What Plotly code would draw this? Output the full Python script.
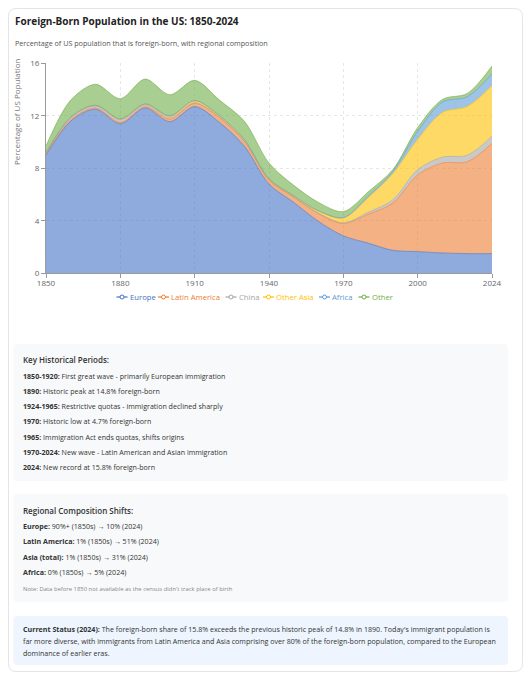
import plotly.graph_objects as go

# census years (category axis, 2024 added after 2020)
years = ['1850', '1860', '1870', '1880', '1890', '1900', '1910', '1920', '1930', '1940',
         '1950', '1960', '1970', '1980', '1990', '2000', '2010', '2020', '2024']
tick_years = ['1850', '1880', '1910', '1940', '1970', '2000', '2024']

# share of total US population (%) by region of birth
europe = [9.0, 11.6, 12.5, 11.4, 12.6, 11.55, 12.7, 11.5, 9.7, 6.8,
          5.4, 3.95, 2.85, 2.3, 1.75, 1.65, 1.55, 1.5, 1.5]
latin_america = [0.1, 0.1, 0.1, 0.1, 0.1, 0.2, 0.25, 0.35, 0.35, 0.3,
                 0.4, 0.6, 0.95, 2.2, 3.6, 5.85, 6.85, 7.0, 8.4]
china = [0.05, 0.15, 0.15, 0.2, 0.15, 0.15, 0.05, 0.05, 0.05, 0.03,
         0.03, 0.04, 0.05, 0.15, 0.25, 0.4, 0.45, 0.5, 0.55]
other_asia = [0.05, 0.05, 0.05, 0.05, 0.05, 0.1, 0.15, 0.1, 0.1, 0.07,
              0.07, 0.15, 0.35, 1.1, 2.0, 2.3, 3.4, 3.7, 3.85]
africa = [0, 0, 0, 0, 0, 0, 0, 0, 0, 0,
          0, 0.01, 0.05, 0.12, 0.15, 0.6, 0.8, 0.75, 0.9]
other = [0.5, 1.3, 1.6, 1.55, 1.9, 1.6, 1.55, 1.2, 1.4, 1.2,
         0.8, 0.65, 0.45, 0.33, 0.15, 0.3, 0.2, 0.25, 0.6]

series_names = ['Europe', 'Latin America', 'China', 'Other Asia', 'Africa', 'Other']
series_values = [europe, latin_america, china, other_asia, africa, other]
colors = ['#4472c4', '#ed7d31', '#a5a5a5', '#ffc000', '#5b9bd5', '#70ad47']

periods = [
    ('1850-1920:', 'First great wave - primarily European immigration'),
    ('1890:', 'Historic peak at 14.8% foreign-born'),
    ('1924-1965:', 'Restrictive quotas - immigration declined sharply'),
    ('1970:', 'Historic low at 4.7% foreign-born'),
    ('1965:', 'Immigration Act ends quotas, shifts origins'),
    ('1970-2024:', 'New wave - Latin American and Asian immigration'),
    ('2024:', 'New record at 15.8% foreign-born'),
]
shifts = [
    ('Europe:', '90%+ (1850s) → 10% (2024)'),
    ('Latin America:', '1% (1850s) → 51% (2024)'),
    ('Asia (total):', '1% (1850s) → 31% (2024)'),
    ('Africa:', '0% (1850s) → 5% (2024)'),
]
status_lines = [
    "<b>Current Status (2024):</b> The foreign-born share of 15.8% exceeds the previous historic peak of 14.8% in 1890. Today's immigrant population is",
    "far more diverse, with immigrants from Latin America and Asia comprising over 80% of the foreign-born population, compared to the European",
    "dominance of earlier eras.",
]

# the page body keeps its 8px margin, so the figure is 16px smaller than the window
# and all positions below are given in window pixels
OFF = 8
W, H = 531 - 2 * OFF, 680 - 2 * OFF
FONT = 'Segoe UI, Open Sans, sans-serif'


def px(x):
    return (x - OFF) / W


def py(y):
    return 1 - (y - OFF) / H


def hex_rgba(h, a):
    h = h.lstrip('#')
    return 'rgba(%d,%d,%d,%s)' % (int(h[0:2], 16), int(h[2:4], 16), int(h[4:6], 16), a)


def rounded_box(x0, y0, x1, y1, r, fill, line='rgba(0,0,0,0)'):
    pts = [('M', x0 + r, y0), ('L', x1 - r, y0), ('Q', x1, y0, x1, y0 + r),
           ('L', x1, y1 - r), ('Q', x1, y1, x1 - r, y1), ('L', x0 + r, y1),
           ('Q', x0, y1, x0, y1 - r), ('L', x0, y0 + r), ('Q', x0, y0, x0 + r, y0)]
    path = ''
    for p in pts:
        coords = p[1:]
        s = ' '.join('%.5f,%.5f' % (px(coords[i]), py(coords[i + 1])) for i in range(0, len(coords), 2))
        path += p[0] + ' ' + s + ' '
    return dict(type='path', path=path + 'Z', xref='paper', yref='paper',
                fillcolor=fill, line=dict(color=line, width=1), layer='below')


def text(x, y, s, size, color='#333', weight=None, anchor='left'):
    f = dict(family=FONT, size=size, color=color)
    if weight:
        f['weight'] = weight
    return dict(x=px(x), y=py(y), xref='paper', yref='paper', text=s, showarrow=False,
                xanchor=anchor, yanchor='middle', borderpad=0, font=f)


fig = go.Figure()

for name, vals, c in zip(series_names, series_values, colors):
    fig.add_trace(go.Scatter(
        x=years, y=vals, name=name, mode='lines', stackgroup='one',
        line=dict(color=hex_rgba(c, 0.75), width=0.8, shape='spline', smoothing=0.9),
        fillcolor=hex_rgba(c, 0.6), showlegend=False,
        hovertemplate='%{x}: %{y:.1f}%<extra>' + name + '</extra>'
    ))

shapes = [
    rounded_box(8.5, 8.5, 522.5, 671.5, 8, '#ffffff', '#e4e4e4'),
    rounded_box(13.5, 344, 508, 481, 4, '#f8f9fa'),
    rounded_box(13.5, 494, 508, 602, 4, '#f8f9fa'),
    rounded_box(13.5, 616, 508, 665, 4, '#eef5fe'),
]

annotations = [
    text(14, 21, '<b>Foreign-Born Population in the US: 1850-2024</b>', 10.0, '#222'),
    text(14, 43, 'Percentage of US population that is foreign-born, with regional composition', 7.2, '#555'),
    dict(x=px(17), y=py(112), xref='paper', yref='paper', text='Percentage of US Population',
         showarrow=False, textangle=-90, xanchor='center', yanchor='middle',
         font=dict(family=FONT, size=8, color='#777')),
]

# legend drawn by hand (line + hollow circle icons, coloured labels)
legend_x = [122, 163.5, 231, 268.5, 324.5, 364]
legend_y = 297
for name, c, lx in zip(series_names, colors, legend_x):
    shapes.append(dict(type='line', xref='paper', yref='paper', x0=px(lx - 5.5), x1=px(lx + 5.5),
                       y0=py(legend_y), y1=py(legend_y), line=dict(color=c, width=1.2)))
    shapes.append(dict(type='circle', xref='paper', yref='paper', x0=px(lx - 2), x1=px(lx + 2),
                       y0=py(legend_y - 2), y1=py(legend_y + 2), fillcolor='white',
                       line=dict(color=c, width=1)))
    annotations.append(text(lx + 6.5, legend_y, name, 7.7, c))

# key historical periods box
annotations.append(text(22, 359.5, 'Key Historical Periods:', 8.0, '#333', weight=600))
for i, (k, v) in enumerate(periods):
    annotations.append(text(22, 375.5 + i * 15.3, '<b>' + k + '</b> ' + v, 7.1, '#333'))

# regional composition box
annotations.append(text(22, 510.5, 'Regional Composition Shifts:', 8.0, '#333', weight=600))
for i, (k, v) in enumerate(shifts):
    annotations.append(text(22, 526 + i * 15.3, '<b>' + k + '</b> ' + v, 7.1, '#333'))
annotations.append(text(22, 589, "Note: Data before 1850 not available as the census didn't track place of birth",
                        5.9, '#888'))

# current status box
for i, s in enumerate(status_lines):
    annotations.append(text(22, 628.5 + i * 12, s, 7.1, '#333'))

fig.update_layout(
    width=W, height=H, autosize=False,
    margin=dict(l=0, r=0, t=0, b=0, autoexpand=False),
    paper_bgcolor='white', plot_bgcolor='rgba(0,0,0,0)',
    font=dict(family=FONT, color='#666'),
    showlegend=False,
    shapes=shapes,
    annotations=annotations,
    xaxis=dict(
        domain=[px(46), px(492)], type='category', categoryorder='array', categoryarray=years,
        range=[0, len(years) - 1], tickmode='array', tickvals=tick_years, automargin=False,
        showgrid=True, gridcolor='#e6e6e6', griddash='dot', gridwidth=1,
        showline=True, linecolor='#9a9a9a', linewidth=1,
        ticks='outside', ticklen=4, tickcolor='#9a9a9a', ticklabelstandoff=-2,
        tickfont=dict(family=FONT, size=8, color='#666'), fixedrange=True,
    ),
    yaxis=dict(
        domain=[py(273.3), py(63.3)], range=[0, 16], tickmode='array', tickvals=[0, 4, 8, 12, 16],
        automargin=False,
        showgrid=True, gridcolor='#e6e6e6', griddash='dot', gridwidth=1, zeroline=False,
        showline=True, linecolor='#9a9a9a', linewidth=1,
        ticks='outside', ticklen=4, tickcolor='#9a9a9a',
        tickfont=dict(family=FONT, size=8, color='#666'), fixedrange=True,
    ),
)

fig.write_html("out.html", config={'displayModeBar': False})
